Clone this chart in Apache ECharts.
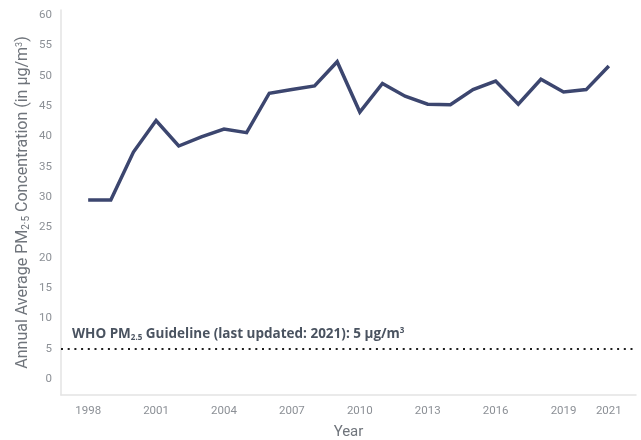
<!DOCTYPE html>
<html>
<head>
<meta charset="utf-8">
<script src="https://cdn.jsdelivr.net/npm/echarts@6/dist/echarts.min.js"></script>
<style>
  html, body { margin: 0; padding: 0; background: #fff; }
  #chart { width: 641px; height: 440px; }
</style>
</head>
<body>
<div id="chart"></div>
<script>
// annual average PM2.5
const years = [1998, 1999, 2000, 2001, 2002, 2003, 2004, 2005, 2006, 2007, 2008, 2009,
  2010, 2011, 2012, 2013, 2014, 2015, 2016, 2017, 2018, 2019, 2020, 2021];
const pm25 = [29.5, 29.5, 37.4, 42.6, 38.4, 39.9, 41.2, 40.6, 47.1, 47.7, 48.3, 52.3,
  44.0, 48.7, 46.6, 45.3, 45.2, 47.7, 49.1, 45.3, 49.4, 47.3, 47.7, 51.6];
const xTickLabels = [1998, 2001, 2004, 2007, 2010, 2013, 2016, 2019, 2021];
const yTickLabels = [0, 5, 10, 15, 20, 25, 30, 35, 40, 45, 50, 55, 60];
const whoGuideline = 5;

const FONT = 'Roboto, "Noto Sans", sans-serif';
const NOTE_FONT = '"Open Sans", Roboto, sans-serif';
const LABEL_GREY = '#8c9096';
const AXIS_GREY = '#e3e3e3';
const LINE_NAVY = '#3c466f';
const NOTE_GREY = '#4a5360';

const chart = echarts.init(document.getElementById('chart'));

chart.setOption({
  backgroundColor: '#fff',
  animation: false,
  textStyle: { fontFamily: FONT },
  grid: { left: 61, right: 5, top: 10, bottom: 45, outerBoundsMode: 'none', containLabel: false },
  xAxis: {
    type: 'value',
    min: 1996.8,
    max: 2022.2,
    name: 'Year',
    nameLocation: 'middle',
    nameGap: 30,
    nameMoveOverlap: false,
    nameTextStyle: { color: '#6f747b', fontSize: 15, fontFamily: FONT },
    axisLine: { show: true, onZero: false, lineStyle: { color: AXIS_GREY, width: 1.5 } },
    axisTick: { show: false },
    splitLine: { show: false },
    axisLabel: {
      customValues: xTickLabels,
      color: LABEL_GREY,
      fontSize: 11.5,
      margin: 10,
      formatter: (v) => String(v)
    }
  },
  yAxis: {
    type: 'value',
    min: -2.64,
    max: 60.82,
    name: 'Annual Average PM{sub|2·5} Concentration (in µg/m{sup|3})',
    nameLocation: 'middle',
    nameGap: 30,
    nameRotate: 90,
    nameMoveOverlap: false,
    nameTextStyle: {
      color: '#6f747b',
      fontSize: 16,
      fontFamily: FONT,
      rich: {
        sub: { fontSize: 10, color: '#6f747b', verticalAlign: 'bottom', padding: [6, 0, 0, 0] },
        sup: { fontSize: 9, color: '#6f747b', verticalAlign: 'top', padding: [0, 0, 6, 0] }
      }
    },
    axisLine: { show: true, lineStyle: { color: AXIS_GREY, width: 1.5 } },
    axisTick: { show: false },
    splitLine: { show: false },
    axisLabel: {
      customValues: yTickLabels,
      color: LABEL_GREY,
      fontSize: 11.5,
      margin: 9
    }
  },
  series: [
    {
      type: 'line',
      data: years.map((y, i) => [y, pm25[i]]),
      symbol: 'none',
      lineStyle: { color: LINE_NAVY, width: 3.5, join: 'miter' },
      markLine: {
        silent: true,
        symbol: 'none',
        lineStyle: { type: [2, 4.7], color: '#1f1f1f', width: 2 },
        label: {
          position: 'insideStartTop',
          distance: [11, 7],
          color: NOTE_GREY,
          fontSize: 13.5,
          fontWeight: 'bold',
          fontFamily: NOTE_FONT,
          formatter: 'WHO PM{sub|2.5} Guideline (last updated: 2021): 5 µg/m{sup|3}',
          rich: {
            sub: { fontSize: 8, fontWeight: 'bold', fontFamily: NOTE_FONT, color: NOTE_GREY, verticalAlign: 'bottom', padding: [7, 0, 0, 0] },
            sup: { fontSize: 8, fontWeight: 'bold', fontFamily: NOTE_FONT, color: NOTE_GREY, verticalAlign: 'top', padding: [0, 0, 6, 0] }
          }
        },
        data: [{ yAxis: whoGuideline }]
      }
    }
  ]
});
</script>
</body>
</html>
